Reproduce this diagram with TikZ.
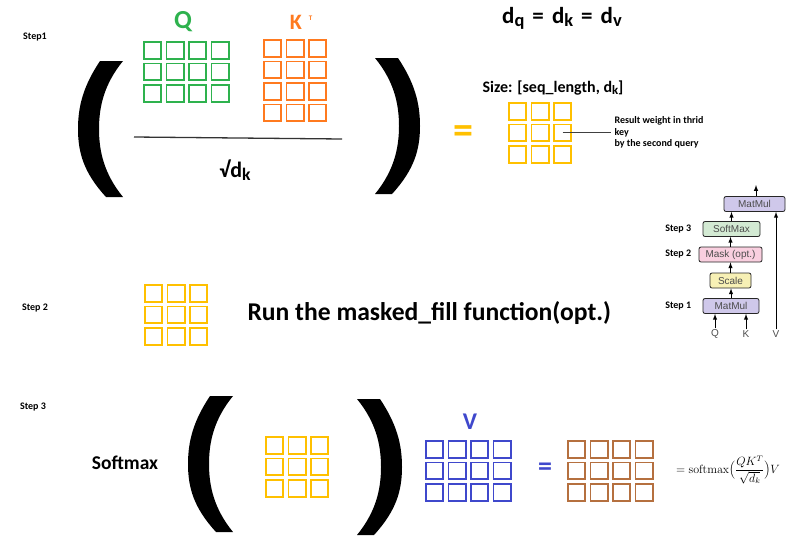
\documentclass[tikz,border=0pt]{standalone}
\usepackage[no-math]{fontspec}
\usepackage{graphicx}
\setmainfont{Carlito}
\newfontfamily\arialfont{Liberation Sans}
\usetikzlibrary{positioning}
\definecolor{qgreen}{HTML}{2EB24E}
\definecolor{korange}{HTML}{FF7A1F}
\definecolor{wyellow}{HTML}{FFC000}
\definecolor{vblue}{HTML}{3F48CC}
\definecolor{obrown}{HTML}{B5703F}
\definecolor{mmcolor}{HTML}{CFC8EA}
\definecolor{smcolor}{HTML}{D3EAD3}
\definecolor{mkcolor}{HTML}{F9CFDF}
\definecolor{sccolor}{HTML}{F7F0B5}
\newcommand{\dsub}[1]{\raisebox{-0.12em}{\scalebox{0.8}{#1}}}
\begin{document}
\begin{tikzpicture}[x=1pt, y=-1pt]
    \tikzstyle{cell} = [draw, rectangle, line width=1.6pt, minimum width=17.4pt, minimum height=16.9pt, inner sep=0pt]
    \tikzstyle{steplabel} = [font=\bfseries\fontsize{10}{12}\selectfont]
    \tikzstyle{block} = [draw=black!85, rounded corners=2pt, line width=0.8pt, minimum height=15pt, inner sep=0pt, font=\arialfont\fontsize{10}{10}\selectfont, text=black!70]
    \tikzstyle{input} = [font=\arialfont\fontsize{10}{10}\selectfont, text=black!70, inner sep=1pt]
    \tikzstyle{la} = [-latex, line width=1pt]
    \tikzset{paren/.pic={\fill (22,0) .. controls (6,24) and (0,44) .. (0,68) .. controls (0,92) and (6,112) .. (28,136) -- (45,136) .. controls (27,114) and (21,92) .. (21,68) .. controls (21,44) and (27,22) .. (45,0) -- cycle;}}
    \useasboundingbox (0,0) rectangle (800,549);
    % step 1
    \node[steplabel] (step1) at (35,37) {Step1};
    \node[text=qgreen, font=\bfseries\fontsize{26}{26}\selectfont] (qlabel) at (183,22) {Q};
    \node[text=korange, font=\bfseries\fontsize{22}{22}\selectfont] (klabel) at (301,22) {K\hspace{7pt}\raisebox{9pt}{\fontsize{7}{7}\selectfont T}};
    \foreach \i in {0,...,3} \foreach \j in {0,...,2}
        \node[cell, draw=qgreen] (q-\j-\i) at ({152.5+22.5*\i}, {50.25+21.5*\j}) {};
    \foreach \i in {0,...,2} \foreach \j in {0,...,3}
        \node[cell, draw=korange] (k-\j-\i) at ({272.5+22.5*\i}, {48.25+21.5*\j}) {};
    \draw[line width=1.3pt, black!80] (134,137) -- (342,139);
    \node[font=\bfseries\fontsize{22}{22}\selectfont] (sqrtdk) at (235,170) {√d\dsub{k}};
    \pic at (78,61) {paren};
    \pic[xscale=-1] at (420,58) {paren};
    \node[font=\bfseries\fontsize{23}{23}\selectfont] (dims) at (562,18) {d\dsub{q}\hspace{0.35em}=\hspace{0.35em}d\dsub{k}\hspace{0.35em}=\hspace{0.35em}d\dsub{v}};
    \node[font=\bfseries\fontsize{16}{16}\selectfont] (size) at (553,88) {Size: [seq\_length, d\dsub{k}]};
    \node[text=wyellow, font=\bfseries\fontsize{40}{40}\selectfont] (eq1) at (463,135) {=};
    \foreach \i in {0,...,2} \foreach \j in {0,...,2}
        \node[cell, draw=wyellow] (res-\j-\i) at ({517.5+22.5*\i}, {111.25+21.5*\j}) {};
    \node[anchor=west, align=left, font=\bfseries\fontsize{10}{11.5}\selectfont] (restext) at (611,132.75) {Result weight in thrid\\key\\by the second query};
    \draw[line width=1.2pt, black!75] (res-1-2.center) -- (restext.west);
    % step 2
    \node[steplabel] (step2) at (35,308) {Step 2};
    \foreach \i in {0,...,2} \foreach \j in {0,...,2}
        \node[cell, draw=wyellow] (msk-\j-\i) at ({153.5+22.5*\i}, {293.25+21.5*\j}) {};
    \node[anchor=west, font=\bfseries\fontsize{25.6}{25.6}\selectfont] (maskfill) at (244,313) {Run the masked\_fill function(opt.)};
    % step 3
    \node[steplabel] (step3) at (33,407) {Step 3};
    \node[font=\bfseries\fontsize{19.5}{19.5}\selectfont] (softmax) at (125,463) {Softmax};
    \pic at (188,396) {paren};
    \pic[xscale=-1] at (402,399) {paren};
    \foreach \i in {0,...,2} \foreach \j in {0,...,2}
        \node[cell, draw=wyellow] (sm-\j-\i) at ({274.5+22.5*\i}, {445.25+21.5*\j}) {};
    \node[text=vblue, font=\bfseries\fontsize{24}{24}\selectfont] (vlabel) at (470,422) {V};
    \foreach \i in {0,...,3} \foreach \j in {0,...,2}
        \node[cell, draw=vblue] (v-\j-\i) at ({434.5+22.5*\i}, {449.25+21.5*\j}) {};
    \node[text=vblue, font=\bfseries\fontsize{28}{28}\selectfont] (eq2) at (545,469) {=};
    \foreach \i in {0,...,3} \foreach \j in {0,...,2}
        \node[cell, draw=obrown] (out-\j-\i) at ({576.5+22.5*\i}, {449.25+21.5*\j}) {};
    \node[font=\fontsize{11.5}{13}\selectfont, inner sep=0pt] (formula) at (728,470) {$\displaystyle =\mathrm{softmax}\Bigl(\frac{QK^T}{\sqrt{d_k}}\Bigr)V$};
    % attention block
    \node[block, fill=mmcolor, minimum width=61pt] (mm2) at (754.5,204) {MatMul};
    \node[block, fill=smcolor, minimum width=57pt] (smx) at (731.5,229) {SoftMax};
    \node[block, fill=mkcolor, minimum width=63pt] (mask) at (730.5,254.5) {Mask (opt.)};
    \node[block, fill=sccolor, minimum width=41pt] (scale) at (730.5,280.5) {Scale};
    \node[block, fill=mmcolor, minimum width=56pt] (mm1) at (731,306) {MatMul};
    \node[steplabel, left=8pt of smx] (rstep3) {Step 3};
    \node[steplabel, left=4pt of mask] (rstep2) {Step 2};
    \node[steplabel, left=8pt of mm1] (rstep1) {Step 1};
    \node[input] (qin) at (715,334) {Q};
    \node[input] (kin) at (746,334) {K};
    \node[input] (vin) at (776,334) {V};
    \coordinate (attnout) at (756,185);
    \draw[la] (qin.north) -- (qin.north |- mm1.south);
    \draw[la] (kin.north) -- (kin.north |- mm1.south);
    \draw[la] (vin.north) -- (vin.north |- mm2.south);
    \draw[la] (mm1.north) -- (mm1.north |- scale.south);
    \draw[la] (scale.north) -- (scale.north |- mask.south);
    \draw[la] (mask.north) -- (mask.north |- smx.south);
    \draw[la] (smx.north) -- (smx.north |- mm2.south);
    \draw[la] (mm2.north -| attnout) -- (attnout);
\end{tikzpicture}
\end{document}
